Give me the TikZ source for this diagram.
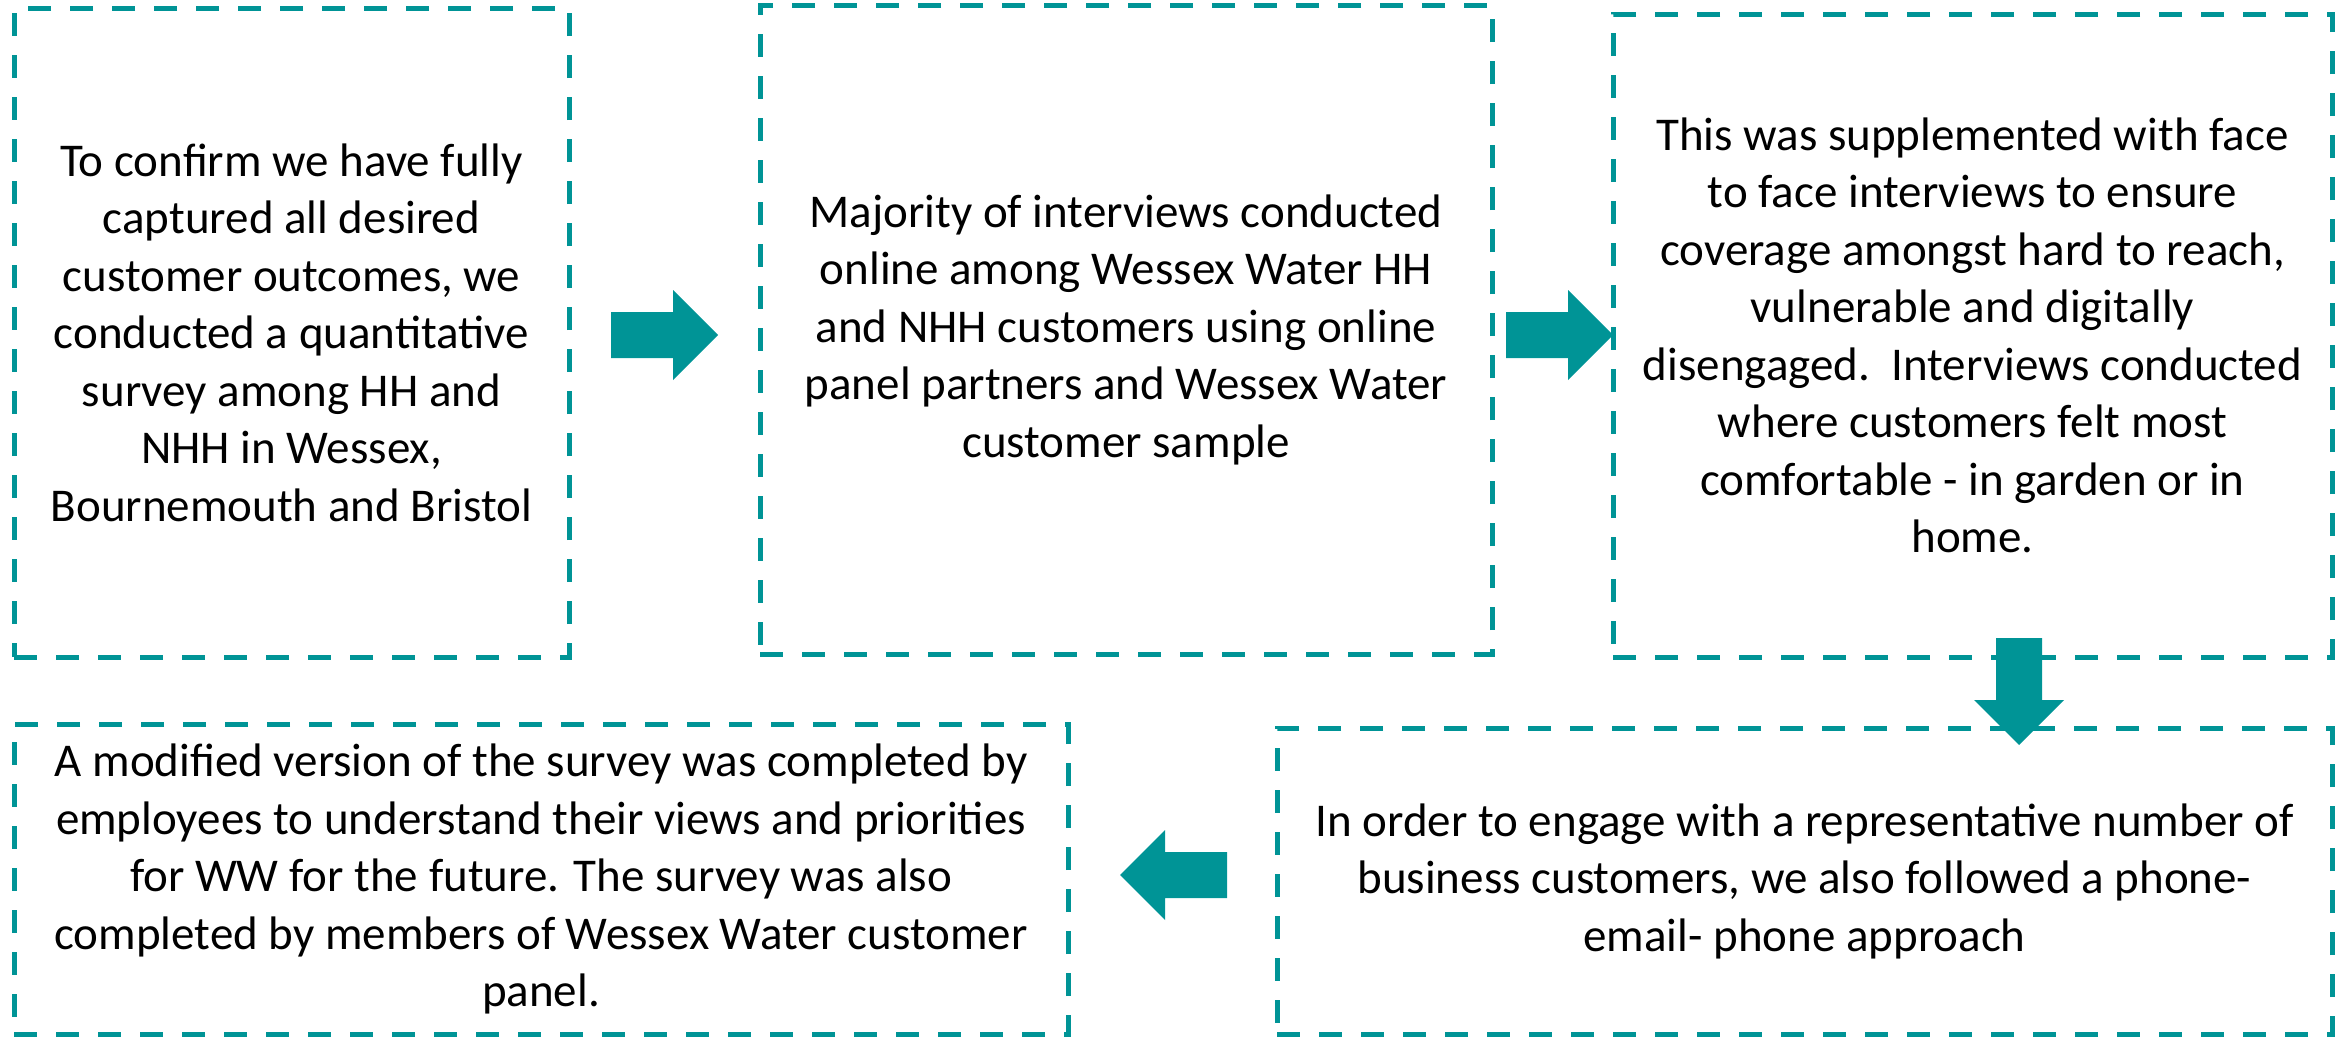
\documentclass[tikz,border=0pt]{standalone}
\usepackage{fontspec}
\setmainfont{Carlito}
\definecolor{tealc}{RGB}{0,148,150}
\begin{document}
\begin{tikzpicture}[x=1pt,y=-1pt,
  box/.style={draw=tealc, line width=5pt, dash pattern=on 23pt off 19pt,
    rectangle, inner sep=0pt, align=center,
    font=\fontsize{47}{57.5}\selectfont, text=black},
  barrow/.pic={\fill[tealc] (0,-23) -- (62,-23) -- (62,-45) -- (107,0) -- (62,45) -- (62,23) -- (0,23) -- cycle;}
]
\useasboundingbox (0,0) rectangle (2351,1039);
\node[box, minimum width=555pt, minimum height=649pt] (b1) at (291.5,332.5)
 {To confirm we have fully\\captured all desired\\customer outcomes, we\\conducted a quantitative\\survey among HH and\\NHH in Wessex,\\Bournemouth and Bristol};
\node[box, minimum width=732pt, minimum height=649pt] (b2) at (1126,329.5)
 {Majority of interviews conducted\\online among Wessex Water HH\\and NHH customers using online\\panel partners and Wessex Water\\customer sample};
\node[box, minimum width=719pt, minimum height=643pt] (b3) at (1972.5,335.5)
 {This was supplemented with face\\to face interviews to ensure\\coverage amongst hard to reach,\\vulnerable and digitally\\disengaged.\ \ Interviews conducted\\where customers felt most\\comfortable - in garden or in\\home.};
\node[box, minimum width=1055pt, minimum height=306pt] (b4) at (1804.5,881)
 {In order to engage with a representative number of\\business customers, we also followed a phone-\\email- phone approach};
\node[box, minimum width=1054pt, minimum height=310pt] (b5) at (541,879)
 {A modified version of the survey was completed by\\employees to understand their views and priorities\\for WW for the future. The survey was also\\completed by members of Wessex Water customer\\panel.};
\pic at (611,335) {barrow};
\pic at (1506,335) {barrow};
\pic[rotate=-90] at (2019,638) {barrow};
\pic[rotate=180] at (1227,875) {barrow};
\end{tikzpicture}
\end{document}
